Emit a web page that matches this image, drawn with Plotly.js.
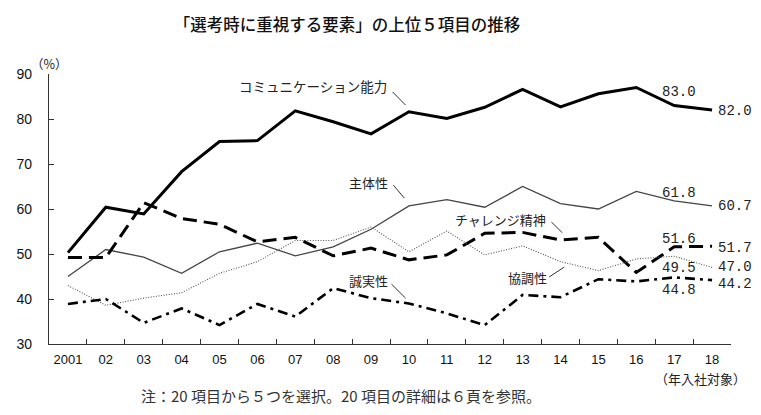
<!DOCTYPE html>
<html><head><meta charset="utf-8">
<script src="https://cdn.plot.ly/plotly-3.0.1.min.js"></script>
<style>html,body{margin:0;padding:0;background:#fff}#chart{width:761px;height:415px}</style>
</head><body><div id="chart"></div>
<script>
const years = ['2001','02','03','04','05','06','07','08','09','10','11','12','13','14','15','16','17','18'];
const communication = [50.3,60.4,58.9,68.3,75.0,75.2,81.8,79.4,76.7,81.6,80.1,82.6,86.6,82.7,85.6,87.0,83.0,82.0];
const shutaisei     = [45.0,51.0,49.3,45.7,50.5,52.4,49.6,51.6,55.5,60.7,62.1,60.4,65.0,61.2,60.0,63.9,61.8,60.7];
const challenge     = [49.2,49.2,61.4,57.9,56.6,52.7,53.7,49.6,51.3,48.7,49.8,54.6,54.8,53.1,53.7,45.9,51.6,51.7];
const kyouchou      = [43.0,38.6,40.2,41.4,45.7,48.3,53.0,53.0,56.0,50.5,55.1,49.8,51.8,48.3,46.3,48.9,49.5,47.0];
const seijitsu      = [38.9,40.0,34.7,37.9,34.2,38.9,36.1,42.4,40.2,39.0,36.8,34.2,40.9,40.4,44.4,43.9,44.8,44.2];

const yTicks = [30,40,50,60,70,80,90];
const seriesLabels = ['コミュニケーション能力','主体性','チャレンジ精神','協調性','誠実性'];
const endLabels17 = ['83.0','61.8','51.6','49.5','44.8'];
const endLabels18 = ['82.0','60.7','51.7','47.0','44.2'];

const traces = [
  {x: years, y: communication, mode:'lines', line:{color:'#000', width:3}},
  {x: years, y: shutaisei, mode:'lines', line:{color:'#444', width:1.3}},
  {x: years, y: challenge, mode:'lines', line:{color:'#000', width:3, dash:'14px,7px'}},
  {x: years, y: kyouchou, mode:'lines', line:{color:'#555', width:1.1, dash:'1px,1.6px'}},
  {x: years, y: seijitsu, mode:'lines', line:{color:'#000', width:2.6, dash:'10px,5px,3px,5px'}}
];

const jp = 'Noto Sans CJK JP';
const numFont = {family:'Liberation Mono, DejaVu Sans Mono, monospace', size:14, color:'#222'};
const lblFont = {family: jp, size:13, color:'#222'};

function ann(text, x, y, xanchor, font){
  return {text:text, x:x, y:y, xref:'x', yref:'y', xanchor:xanchor||'center', yanchor:'middle', showarrow:false, font:font};
}
const annotations = [
  ann(seriesLabels[0], 6.46, 87.3, 'center', {family:jp, size:13.5, color:'#222'}),
  ann(seriesLabels[1], 7.92, 65.8, 'center', lblFont),
  ann(seriesLabels[2], 11.41, 57.6, 'center', lblFont),
  ann(seriesLabels[3], 12.12, 44.7, 'center', lblFont),
  ann(seriesLabels[4], 7.93, 44.2, 'center', lblFont),
  ann(endLabels17[0], 16.13, 86.0, 'center', numFont),
  ann(endLabels17[1], 16.13, 63.6, 'center', numFont),
  ann(endLabels17[2], 16.13, 53.3, 'center', numFont),
  ann(endLabels17[3], 16.13, 46.9, 'center', numFont),
  ann(endLabels17[4], 16.13, 42.0, 'center', numFont),
  ann(endLabels18[0], 17.1, 81.8, 'left', numFont),
  ann(endLabels18[1], 17.1, 60.7, 'left', numFont),
  ann(endLabels18[2], 17.1, 51.3, 'left', numFont),
  ann(endLabels18[3], 17.1, 47.1, 'left', numFont),
  ann(endLabels18[4], 17.1, 43.3, 'left', numFont),
  {text:'（年入社対象）', xref:'paper', yref:'paper', x:0.955, y:-0.126, xanchor:'center', yanchor:'middle', showarrow:false, font:{family:jp, size:13, color:'#222'}},
  {text:'（%）', xref:'paper', yref:'paper', x:0.0, y:1.04, xanchor:'center', yanchor:'middle', showarrow:false, font:{family:jp, size:12.5, color:'#222'}},
  {text:'注：20 項目から５つを選択。20 項目の詳細は６頁を参照。', xref:'paper', yref:'paper', x:0.428, y:-0.189, xanchor:'center', yanchor:'middle', showarrow:false, font:{family:jp, size:15, color:'#333'}}
];

function seg(x0,y0,x1,y1){
  return {type:'line', xref:'x', yref:'y', x0:x0, y0:y0, x1:x1, y1:y1, line:{color:'#333', width:1}};
}
const shapes = [
  seg(8.57,86.0,8.91,83.1),
  seg(8.59,65.3,8.88,62.4),
  seg(12.76,57.1,13.05,54.7),
  seg(12.70,44.9,13.10,47.1),
  seg(8.54,43.3,8.91,40.2)
];

const layout = {
  width:761, height:415,
  margin:{l:49, r:30, t:74, b:71},
  paper_bgcolor:'#fff', plot_bgcolor:'#fff',
  showlegend:false,
  title:{text:'「選考時に重視する要素」の上位５項目の推移', x:0.456, xref:'container', xanchor:'center', y:0.94, yref:'container', yanchor:'middle', font:{family:jp, size:16.5, color:'#111', weight:500}},
  xaxis:{type:'category', range:[-0.5,17.5], showline:true, linecolor:'#333', linewidth:1.2, ticks:'inside', ticklen:5, tickcolor:'#333', tickson:'boundaries', tickangle:0, showgrid:false, zeroline:false, tickfont:{family:'Liberation Sans, Arial', size:13, color:'#111'}, ticklabelstandoff:3, fixedrange:true},
  yaxis:{range:[30,90], tickvals:yTicks, showline:true, linecolor:'#333', linewidth:1.2, ticks:'inside', ticklen:5, tickcolor:'#333', showgrid:false, zeroline:false, tickfont:{family:'Liberation Sans, Arial', size:14, color:'#111'}, ticklabelstandoff:13, fixedrange:true},
  annotations: annotations,
  shapes: shapes
};
Plotly.newPlot('chart', traces, layout, {displayModeBar:false, staticPlot:true});
</script></body></html>
